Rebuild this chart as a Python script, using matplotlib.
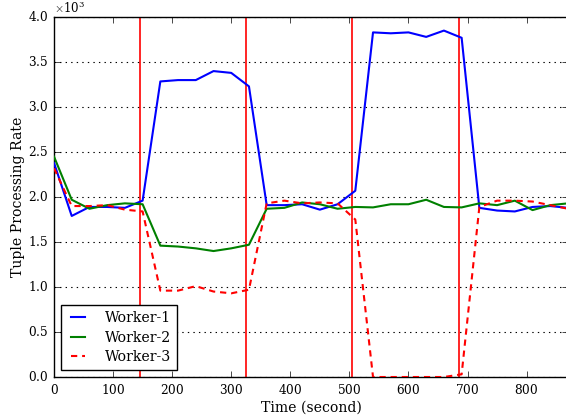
import matplotlib

matplotlib.use("Agg")
import matplotlib.pyplot as plt
from matplotlib.ticker import ScalarFormatter

# sample times (s) and per-worker throughput (tuples/s)
time_s = [0, 30, 60, 90, 120, 150, 180, 210, 240, 270, 300, 330, 360, 390, 420,
          450, 480, 510, 540, 570, 600, 630, 660, 690, 720, 750, 780, 810, 840, 870]
worker1 = [2380, 1790, 1890, 1890, 1880, 1960, 3285, 3300, 3300, 3400, 3380, 3230,
           1910, 1910, 1920, 1860, 1920, 2070, 3830, 3820, 3830, 3780, 3850, 3770,
           1880, 1850, 1840, 1890, 1900, 1880]
worker2 = [2450, 1970, 1870, 1910, 1930, 1920, 1460, 1450, 1430, 1400, 1430, 1470,
           1870, 1880, 1940, 1920, 1870, 1890, 1885, 1920, 1920, 1970, 1890, 1885,
           1930, 1910, 1960, 1855, 1910, 1930]
worker3 = [2320, 1900, 1900, 1910, 1860, 1840, 960, 960, 1010, 950, 930, 970,
           1930, 1960, 1930, 1940, 1930, 1750, 0, 0, 0, 0, 0, 30,
           1890, 1960, 1960, 1950, 1910, 1870]
# moments where the load was shifted
events_s = [145, 325, 505, 686]

plt.style.use("classic")
plt.rcParams["font.family"] = "serif"
plt.rcParams["font.serif"] = ["DejaVu Serif"]
plt.rcParams["axes.formatter.use_mathtext"] = True

fig = plt.figure(figsize=(5.66, 4.17), dpi=100, facecolor="white")
ax = fig.add_axes([0.0954, 0.0959, 1.0035 - 0.0954, 0.959 - 0.0959])

for t in events_s:
    ax.axvline(t, color="r", linewidth=1.2, zorder=1)

ax.plot(time_s, worker1, color="b", linewidth=1.5, label="Worker-1", zorder=3)
ax.plot(time_s, worker2, color="g", linewidth=1.5, label="Worker-2", zorder=3)
ax.plot(time_s, worker3, color="r", linewidth=1.5, linestyle="--", dashes=(4.5, 3.5),
        label="Worker-3", zorder=3)

ax.set_xlim(0, 870)
ax.set_ylim(0, 4000)
ax.set_xticks(range(0, 801, 100))
ax.set_yticks(range(0, 4001, 500))
fmt = ScalarFormatter(useMathText=True)
fmt.set_powerlimits((0, 0))
ax.yaxis.set_major_formatter(fmt)
ax.yaxis.get_offset_text().set_fontsize(8.5)

ax.yaxis.grid(True, color="k", linestyle=":", linewidth=0.8)
ax.xaxis.grid(False)
ax.tick_params(labelsize=8.7, direction="in", length=4, top=True, right=True)

ax.set_xlabel("Time (second)", fontsize=10.1, labelpad=3)
ax.set_ylabel("Tuple Processing Rate", fontsize=10.1, labelpad=2)

leg = ax.legend(loc="lower left", fontsize=10.2, fancybox=False, framealpha=1,
                edgecolor="black", borderaxespad=0.5, handlelength=1.6,
                handletextpad=1.1, labelspacing=0.4)
leg.get_frame().set_linewidth(1.0)

fig.savefig("out.png", dpi=100, facecolor="white")
